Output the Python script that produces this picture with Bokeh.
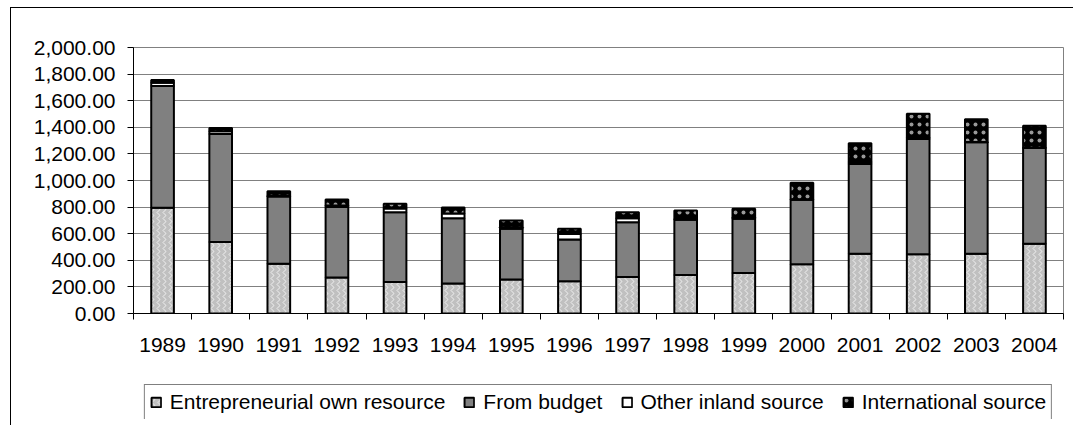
import numpy as np
from bokeh.plotting import figure
from bokeh.models import Range1d, FixedTicker, NumeralTickFormatter, Legend, LegendItem
from bokeh.layouts import column
from bokeh.embed import file_html
from bokeh.resources import INLINE

years = ["1989", "1990", "1991", "1992", "1993", "1994", "1995", "1996",
         "1997", "1998", "1999", "2000", "2001", "2002", "2003", "2004"]
entrepreneurial = [795, 537, 375, 270, 237, 225, 255, 242, 275, 290, 305, 370, 450, 445, 450, 525]
budget = [915, 813, 505, 530, 525, 492, 382, 315, 412, 415, 407, 485, 675, 867, 837, 720]
other_inland = [25, 20, 5, 12, 28, 35, 12, 40, 30, 5, 10, 3, 15, 10, 3, 2]
international = [20, 25, 35, 45, 35, 45, 50, 40, 45, 65, 65, 125, 140, 180, 170, 165]
series_names = ["Entrepreneurial own resource", "From budget",
                "Other inland source", "International source"]
y_ticks = [0, 200, 400, 600, 800, 1000, 1200, 1400, 1600, 1800, 2000]

FONT = "Liberation Sans"
FILLS = ["#c0c0c0", "#808080", "#ffffff", "#000000"]
HATCH = ["vertical_wave", " ", " ", "dot"]
HATCH_ALPHA = [0.75, 0.0, 0.0, 0.6]
HATCH_SCALE = [6, 12, 12, 8]
HATCH_WEIGHT = [1, 1, 1, 0.5]

xs = [i + 0.5 for i in range(len(years))]
data = dict(x=xs, e=entrepreneurial, b=budget, o=other_inland, i=international)

p = figure(width=1062, height=360, output_backend="svg", toolbar_location=None,
           x_range=Range1d(0, len(years)), y_range=Range1d(0, 2000),
           min_border_left=122, min_border_right=10, min_border_top=39,
           min_border_bottom=55)
p.outline_line_color = "#808080"
p.outline_line_width = 1
p.background_fill_color = "white"
p.border_fill_color = "white"

renderers = p.vbar_stack(
    ["e", "b", "o", "i"], x="x", width=0.39, source=data,
    fill_color=FILLS, line_color="black", line_width=2,
    hatch_pattern=HATCH, hatch_color="#ffffff", hatch_alpha=HATCH_ALPHA,
    hatch_scale=HATCH_SCALE, hatch_weight=HATCH_WEIGHT)

# axes
p.xaxis.ticker = FixedTicker(ticks=xs, minor_ticks=list(range(len(years) + 1)))
p.xaxis.major_label_overrides = {x: y for x, y in zip(xs, years)}
p.xaxis.major_tick_out = 0
p.xaxis.major_tick_in = 0
p.xaxis.minor_tick_out = 6
p.xaxis.minor_tick_in = 0
p.xaxis.minor_tick_line_color = "black"
p.xaxis.major_label_standoff = 18
p.yaxis.ticker = FixedTicker(ticks=y_ticks)
p.yaxis.formatter = NumeralTickFormatter(format="0,0.00")
p.yaxis.major_tick_out = 6
p.yaxis.major_tick_in = 0
p.yaxis.minor_tick_line_color = None
p.yaxis.major_label_standoff = 12
for ax in (p.xaxis[0], p.yaxis[0]):
    ax.axis_line_color = "black"
    ax.axis_line_width = 1
    ax.major_tick_line_color = "black"
    ax.major_label_text_font = FONT
    ax.major_label_text_font_size = "21px"
    ax.major_label_text_color = "black"

p.xgrid.grid_line_color = None
p.ygrid.ticker = FixedTicker(ticks=y_ticks)
p.ygrid.grid_line_color = "#808080"
p.ygrid.grid_line_width = 1

# legend strip below the plot (same horizontal frame as the chart)
q = figure(width=1062, height=57, output_backend="svg", toolbar_location=None,
           x_range=Range1d(0, 1), y_range=Range1d(0, 1),
           x_axis_type=None, y_axis_type=None,
           min_border_left=122, min_border_right=10, min_border_top=16,
           min_border_bottom=6)
q.outline_line_color = None
q.background_fill_color = None
q.border_fill_color = None
q.xgrid.grid_line_color = None
q.ygrid.grid_line_color = None
items = []
for k, name in enumerate(series_names):
    r = q.vbar(x=np.array([np.nan]), top=np.array([np.nan]), width=0.5,
               fill_color=FILLS[k], line_color="black", line_width=2,
               hatch_pattern=HATCH[k], hatch_color="#ffffff",
               hatch_alpha=HATCH_ALPHA[k], hatch_scale=HATCH_SCALE[k],
               hatch_weight=HATCH_WEIGHT[k])
    items.append(LegendItem(label=name, renderers=[r]))
legend = Legend(items=items, orientation="horizontal", location="center",
                label_text_font=FONT, label_text_font_size="21px",
                label_text_color="black", glyph_width=12, glyph_height=12,
                label_standoff=8, spacing=18, padding=5, margin=0,
                border_line_color="black", border_line_width=1,
                background_fill_color="white", background_fill_alpha=1)
q.add_layout(legend, "center")

layout = column(p, q, spacing=0, margin=(7, 0, 0, 10),
                styles={"border-left": "1px solid black",
                        "border-top": "1px solid black"})

open("out.html", "w").write(file_html(layout, INLINE))
